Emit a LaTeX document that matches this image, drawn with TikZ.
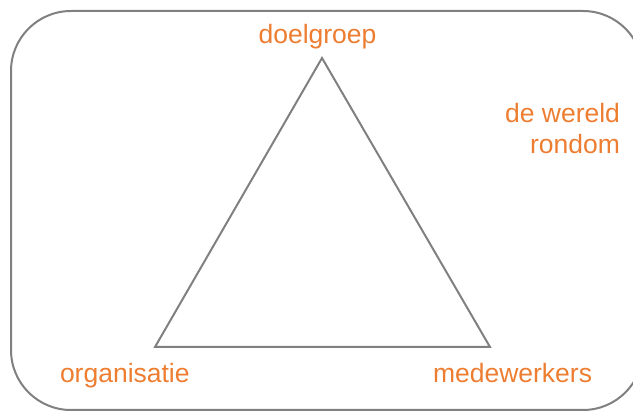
\documentclass[tikz,border=0pt]{standalone}
\usepackage{fontspec}
\setmainfont{Liberation Sans}
\definecolor{lineGray}{RGB}{128,128,128}
\definecolor{txtOrange}{RGB}{237,125,49}
\begin{document}
\begin{tikzpicture}[x=1pt,y=-1pt,
  frame/.style={draw=lineGray,line width=2pt,rounded corners=60pt},
  tri/.style={draw=lineGray,line width=2pt,line join=miter},
  lbl/.style={text=txtOrange,font=\fontsize{26.5}{31}\selectfont,inner sep=0pt,outer sep=0pt}]
\useasboundingbox (0,0) rectangle (633,411);
\begin{scope}
\clip (0,0) rectangle (633,411);
\draw[frame] (11,11) rectangle (643,410);
\end{scope}
\coordinate (apex) at (322,58);
\coordinate (bl) at (155,347);
\coordinate (br) at (490,347);
\draw[tri] (apex) -- (bl) -- (br) -- cycle;
\node[lbl,anchor=base] (doel) at (317.5,44) {doelgroep};
\node[lbl,anchor=base east] (wer1) at (620,123) {de wereld};
\node[lbl,anchor=base east] (wer2) at (620,154) {rondom};
\node[lbl,anchor=base west] (org) at (60,383) {organisatie};
\node[lbl,anchor=base west] (med) at (433,383) {medewerkers};
\end{tikzpicture}
\end{document}
